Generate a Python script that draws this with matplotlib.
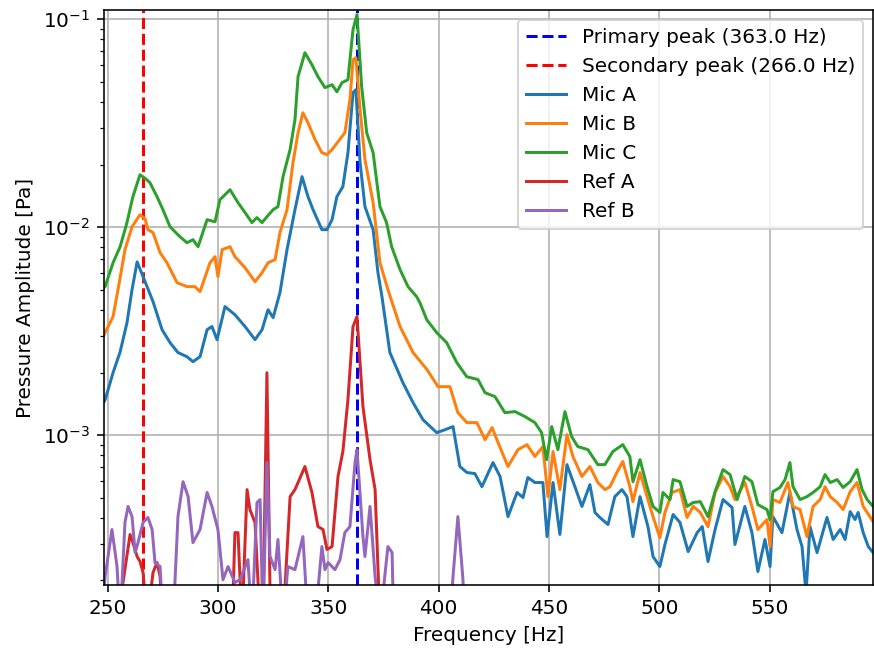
import numpy as np
import matplotlib
matplotlib.use("Agg")
import matplotlib.pyplot as plt

# ---- data (frequency in Hz, log10 pressure amplitude in Pa) ----
mic_a_f = [248.4, 248.9, 252.5, 255.7, 258.8, 261.1, 263.4, 266.1, 270.6, 274.7, 278.3, 281.9, 286.0, 288.7,
           291.9, 295.1, 297.3, 299.6, 303.2, 307.7, 312.3, 316.8, 320.0, 322.7, 325.0, 328.1, 331.3, 334.9,
           338.1, 340.8, 343.1, 347.1, 349.4, 351.7, 353.9, 356.6, 358.9, 361.2, 362.5, 364.4, 366.6, 370.3,
           372.5, 374.3, 377.9, 383.8, 388.4, 392.9, 399.1, 402.9, 406.5, 409.6, 412.8, 416.4, 419.6, 424.6,
           427.8, 431.4, 435.5, 438.2, 440.4, 443.6, 447.2, 449.1, 451.8, 454.9, 458.1, 461.7, 464.9, 468.5,
           470.8, 473.0, 476.7, 479.8, 483.0, 485.3, 488.0, 491.2, 494.8, 497.1, 500.2, 502.5, 506.2, 509.3,
           513.0, 517.1, 519.4, 522.0, 525.2, 528.8, 532.9, 534.2, 538.7, 541.9, 544.6, 547.8, 550.1, 551.4,
           555.5, 559.1, 562.3, 564.6, 566.4, 568.2, 571.4, 575.9, 578.7, 581.9, 584.1, 586.4, 588.6, 590.0,
           592.3, 594.6, 596.8]
mic_a_log = [-2.84, -2.83, -2.70, -2.60, -2.46, -2.30, -2.167, -2.238, -2.358, -2.493, -2.555, -2.603, -2.623,
             -2.647, -2.623, -2.493, -2.478, -2.541, -2.382, -2.421, -2.478, -2.541, -2.493, -2.397, -2.435,
             -2.315, -2.108, -1.916, -1.757, -1.853, -1.916, -2.012, -2.012, -1.964, -1.853, -1.805, -1.642,
             -1.353, -1.339, -1.690, -1.901, -2.012, -2.219, -2.334, -2.603, -2.748, -2.844, -2.926, -2.988,
             -2.974, -2.959, -3.151, -3.180, -3.185, -3.248, -3.132, -3.199, -3.392, -3.276, -3.300, -3.204,
             -3.228, -3.228, -3.488, -3.228, -3.478, -3.142, -3.248, -3.343, -3.238, -3.372, -3.396, -3.430,
             -3.296, -3.262, -3.296, -3.488, -3.296, -3.440, -3.584, -3.632, -3.526, -3.382, -3.420, -3.560,
             -3.469, -3.440, -3.608, -3.454, -3.310, -3.348, -3.526, -3.343, -3.469, -3.656, -3.502, -3.632,
             -3.392, -3.469, -3.276, -3.454, -3.536, -3.76, -3.440, -3.565, -3.396, -3.502, -3.454, -3.502,
             -3.368, -3.406, -3.372, -3.469, -3.536, -3.565]

mic_b_f = [248.4, 248.9, 252.5, 255.0, 257.9, 261.1, 264.7, 267.0, 268.3, 270.6, 273.8, 276.9, 281.5, 286.0,
           289.6, 291.9, 296.4, 298.7, 300.0, 301.9, 305.5, 307.7, 312.3, 316.8, 320.0, 322.7, 325.9, 328.1,
           331.3, 334.0, 336.3, 338.5, 340.8, 344.0, 347.1, 349.4, 351.7, 354.4, 357.5, 359.8, 361.2, 362.5,
           364.4, 366.6, 370.3, 373.4, 377.0, 382.5, 388.4, 394.7, 399.7, 405.1, 408.7, 412.8, 417.3, 421.0,
           424.2, 426.9, 431.4, 435.9, 440.0, 443.6, 447.2, 449.5, 451.8, 454.9, 458.1, 460.8, 464.9, 468.5,
           472.1, 475.3, 477.6, 480.7, 483.4, 486.6, 488.0, 491.2, 494.4, 497.1, 500.2, 502.5, 505.7, 509.3,
           512.5, 515.3, 518.5, 522.0, 525.2, 528.8, 532.0, 534.2, 538.7, 541.9, 544.6, 548.7, 550.1, 551.4,
           554.6, 558.2, 560.5, 563.7, 566.8, 569.6, 572.8, 575.0, 577.4, 580.5, 583.2, 586.4, 589.5, 592.3,
           596.8]
mic_b_log = [-2.52, -2.507, -2.43, -2.286, -2.108, -1.998, -1.940, -1.960, -2.012, -2.026, -2.123, -2.171,
             -2.267, -2.286, -2.286, -2.310, -2.171, -2.142, -2.238, -2.108, -2.094, -2.142, -2.195, -2.262,
             -2.219, -2.171, -2.156, -2.026, -1.916, -1.690, -1.546, -1.450, -1.498, -1.579, -1.642, -1.651,
             -1.627, -1.589, -1.546, -1.387, -1.195, -1.185, -1.435, -1.675, -1.882, -2.171, -2.300, -2.478,
             -2.603, -2.685, -2.767, -2.767, -2.892, -2.940, -2.940, -3.022, -2.964, -3.036, -3.151, -3.070,
             -3.046, -3.103, -3.055, -3.296, -3.079, -3.262, -2.998, -3.103, -3.199, -3.151, -3.228, -3.262,
             -3.248, -3.180, -3.127, -3.248, -3.320, -3.180, -3.296, -3.392, -3.493, -3.372, -3.276, -3.262,
             -3.396, -3.343, -3.372, -3.440, -3.276, -3.199, -3.248, -3.310, -3.228, -3.343, -3.454, -3.406,
             -3.536, -3.310, -3.324, -3.228, -3.343, -3.358, -3.488, -3.343, -3.310, -3.248, -3.296, -3.324,
             -3.358, -3.272, -3.228, -3.343, -3.416]

mic_c_f = [248.4, 248.9, 252.5, 255.7, 258.8, 261.5, 264.7, 267.0, 269.2, 272.4, 275.1, 278.3, 282.8, 286.0,
           288.7, 291.0, 295.1, 298.7, 300.9, 305.5, 309.1, 312.3, 315.4, 317.7, 320.0, 322.2, 325.0, 327.2,
           329.5, 332.7, 334.9, 336.3, 339.4, 342.6, 345.3, 348.5, 351.7, 353.9, 356.2, 358.9, 361.2, 363.0,
           365.1, 367.4, 370.3, 373.4, 376.4, 378.7, 382.5, 386.1, 390.0, 391.5, 394.6, 399.1, 403.6, 408.2,
           412.7, 417.8, 421.0, 425.5, 430.0, 434.6, 439.1, 443.6, 446.6, 448.9, 451.2, 454.0, 457.2, 460.2,
           463.0, 467.6, 472.1, 475.3, 478.9, 483.4, 486.6, 488.0, 491.2, 494.4, 497.1, 500.2, 501.6, 504.8,
           506.2, 509.3, 512.5, 515.3, 518.5, 522.0, 525.2, 528.8, 532.0, 535.2, 538.7, 541.9, 544.6, 548.7,
           550.1, 551.4, 554.6, 556.9, 559.1, 560.5, 563.7, 566.8, 569.6, 572.8, 575.0, 577.4, 580.5, 583.2,
           586.4, 589.5, 591.8, 594.1, 596.8]
mic_c_log = [-2.291, -2.286, -2.171, -2.094, -1.978, -1.853, -1.748, -1.765, -1.786, -1.853, -1.916, -1.998,
             -2.046, -2.075, -2.060, -2.094, -1.964, -1.974, -1.868, -1.820, -1.882, -1.930, -1.978, -1.954,
             -1.978, -1.950, -1.916, -1.901, -1.757, -1.627, -1.483, -1.276, -1.161, -1.219, -1.276, -1.329,
             -1.315, -1.349, -1.305, -1.291, -1.050, -0.978, -1.323, -1.546, -1.642, -1.901, -1.978, -2.094,
             -2.204, -2.286, -2.334, -2.363, -2.445, -2.507, -2.555, -2.651, -2.719, -2.733, -2.796, -2.815,
             -2.892, -2.887, -2.911, -2.940, -2.988, -3.118, -2.959, -3.070, -2.887, -3.007, -3.055, -3.070,
             -3.142, -3.142, -3.079, -3.046, -3.103, -3.224, -3.118, -3.248, -3.343, -3.372, -3.276, -3.310,
             -3.214, -3.224, -3.343, -3.324, -3.320, -3.392, -3.272, -3.166, -3.190, -3.310, -3.199, -3.224,
             -3.334, -3.358, -3.406, -3.272, -3.252, -3.214, -3.132, -3.248, -3.310, -3.296, -3.276, -3.248,
             -3.190, -3.228, -3.214, -3.252, -3.224, -3.166, -3.262, -3.310, -3.343]

ref_a_f = [248.4, 255.0, 257.0, 260.2, 261.5, 263.4, 264.7, 266.1, 267.9, 270.6, 272.4, 273.8, 275.0, 306.5,
           307.7, 309.1, 310.9, 313.2, 314.5, 316.8, 319.1, 320.4, 322.2, 323.8, 329.5, 332.7, 334.9, 336.3,
           339.4, 342.6, 345.3, 347.6, 349.4, 351.7, 354.4, 356.6, 358.9, 361.2, 363.0, 365.7, 368.9, 371.2,
           373.4, 596.8]
ref_a_log = [-3.9, -3.9, -3.709, -3.478, -3.517, -3.584, -3.608, -3.661, -3.9, -3.661, -3.613, -3.680, -3.9,
             -3.9, -3.469, -3.469, -3.9, -3.262, -3.358, -3.420, -3.9, -3.9, -2.700, -3.9, -3.9, -3.296,
             -3.262, -3.228, -3.151, -3.276, -3.440, -3.454, -3.550, -3.536, -3.199, -3.079, -2.830, -2.478,
             -2.430, -2.863, -3.118, -3.262, -3.9, -3.9]

ref_b_f = [248.4, 248.9, 252.0, 254.3, 255.7, 257.9, 259.3, 261.1, 262.5, 263.8, 266.1, 268.3, 270.2, 271.5,
           273.8, 275.1, 279.7, 281.9, 284.2, 286.5, 288.7, 291.9, 295.1, 297.3, 300.0, 302.3, 304.6, 307.7,
           310.0, 313.6, 315.4, 317.7, 319.1, 320.4, 322.2, 323.6, 325.9, 327.2, 329.5, 331.7, 334.9, 338.5,
           340.8, 344.0, 347.1, 348.5, 349.9, 353.0, 355.3, 357.5, 359.8, 362.1, 363.0, 365.7, 366.6, 368.9,
           371.2, 373.4, 377.0, 378.9, 379.6, 405.1, 406.5, 408.7, 410.9, 412.0, 596.8]
ref_b_log = [-3.75, -3.680, -3.454, -3.632, -3.9, -3.420, -3.343, -3.392, -3.565, -3.517, -3.420, -3.396,
             -3.454, -3.613, -3.632, -3.9, -3.9, -3.392, -3.224, -3.296, -3.517, -3.454, -3.276, -3.343,
             -3.454, -3.695, -3.632, -3.709, -3.695, -3.599, -3.9, -3.324, -3.310, -3.9, -3.132, -3.584,
             -3.647, -3.502, -3.9, -3.632, -3.647, -3.488, -3.9, -3.9, -3.536, -3.647, -3.613, -3.647,
             -3.599, -3.469, -3.440, -3.132, -3.070, -3.488, -3.584, -3.343, -3.680, -3.9, -3.536, -3.565,
             -3.9, -3.9, -3.68, -3.392, -3.68, -3.9, -3.9]

primary_peak = 363.0
secondary_peak = 266.0

# ---- plot ----
DPI = 144
fig = plt.figure(figsize=(874 / DPI, 653 / DPI), dpi=DPI)
ax = fig.add_axes([0.119, 0.104, 0.880, 0.881])

ax.axvline(primary_peak, color="b", linestyle="--", label=f"Primary peak ({primary_peak:.1f} Hz)")
ax.axvline(secondary_peak, color="r", linestyle="--", label=f"Secondary peak ({secondary_peak:.1f} Hz)")
ax.plot(mic_a_f, 10 ** np.array(mic_a_log), color="C0", label="Mic A")
ax.plot(mic_b_f, 10 ** np.array(mic_b_log), color="C1", label="Mic B")
ax.plot(mic_c_f, 10 ** np.array(mic_c_log), color="C2", label="Mic C")
ax.plot(ref_a_f, 10 ** np.array(ref_a_log), color="C3", label="Ref A")
ax.plot(ref_b_f, 10 ** np.array(ref_b_log), color="C4", label="Ref B")

ax.set_yscale("log")
ax.set_xlim(248.4, 596.8)
ax.set_ylim(1.9e-4, 0.111)
ax.set_xlabel("Frequency [Hz]")
ax.set_ylabel("Pressure Amplitude [Pa]")
ax.grid(True)
ax.legend(loc="upper right")

fig.savefig("out.png", dpi=DPI)
